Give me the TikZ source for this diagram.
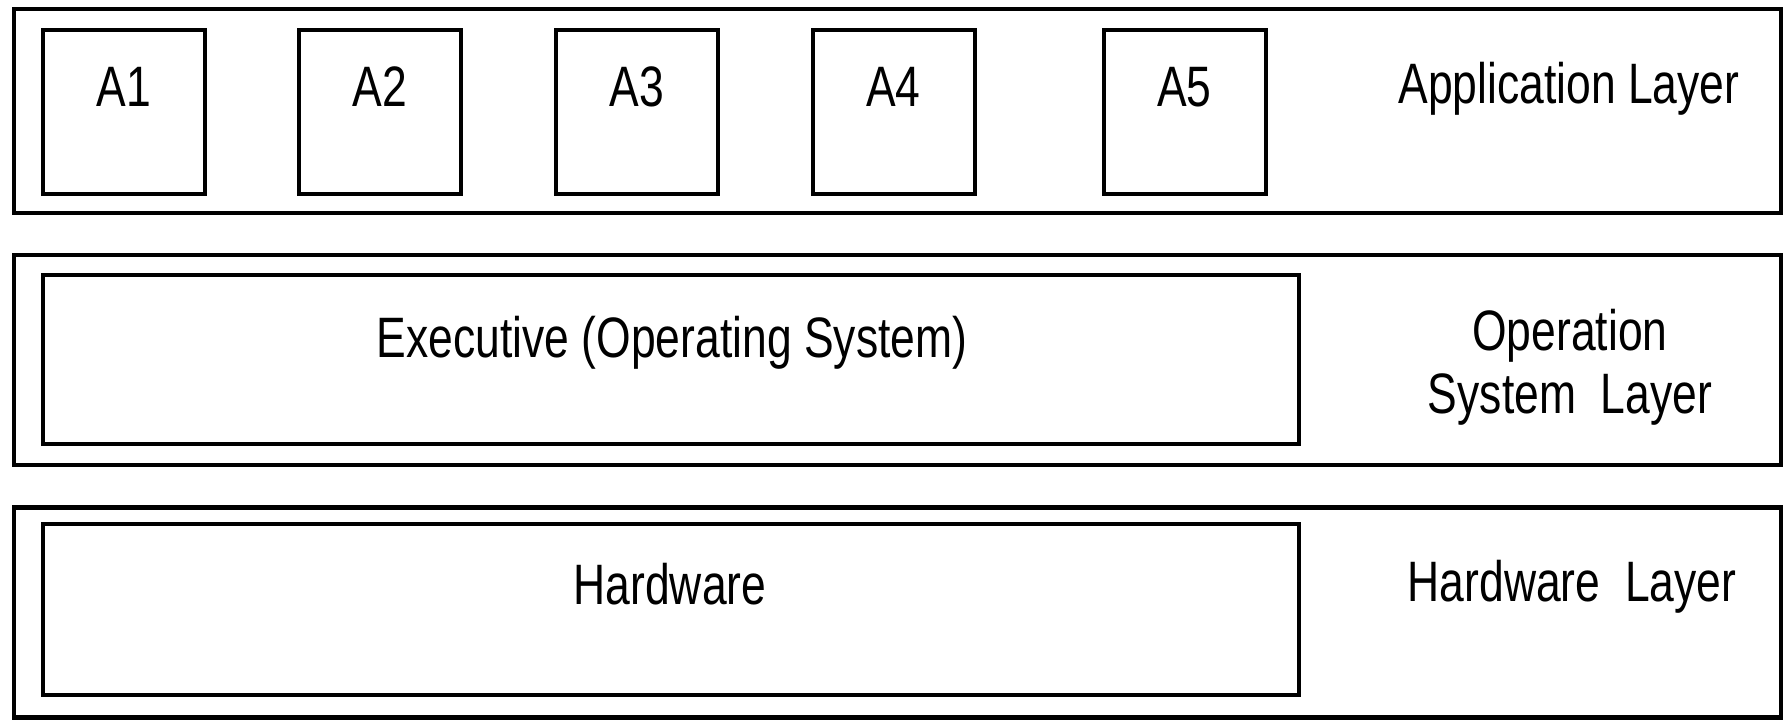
\documentclass[tikz,border=0pt]{standalone}
\usepackage{fontspec}
\setmainfont{Liberation Sans}[FakeStretch=0.78]
\begin{document}
\begin{tikzpicture}[x=1pt,y=-1pt,
  layerbox/.style={draw=black,line width=4.5pt,inner sep=0pt,minimum width=1767pt},
  appbox/.style={draw=black,line width=4pt,inner sep=0pt,minimum width=162pt,minimum height=164pt},
  widebox/.style={draw=black,line width=4pt,inner sep=0pt,minimum width=1256pt},
  lbl/.style={inner sep=0pt,anchor=base,font=\fontsize{57}{63}\selectfont}
]
\useasboundingbox (0,0) rectangle (1787,720);
% layers
\node[layerbox,minimum height=204pt] (appl) at (897.5,111) {};
\node[layerbox,minimum height=210pt] (osl) at (897.5,360) {};
\node[layerbox,minimum height=210pt] (hwl) at (897.5,612.5) {};
% application boxes
\node[appbox] (a1) at (124,112) {};
\node[appbox] (a2) at (380,112) {};
\node[appbox] (a3) at (637,112) {};
\node[appbox] (a4) at (893.5,112) {};
\node[appbox] (a5) at (1184.5,112) {};
\node[lbl] (ta1) at (124,106) {A1};
\node[lbl] (ta2) at (380,106) {A2};
\node[lbl] (ta3) at (637,106) {A3};
\node[lbl] (ta4) at (893.5,106) {A4};
\node[lbl] (ta5) at (1184.5,106) {A5};
\node[lbl] (tappl) at (1569,103) {Application Layer};
% executive
\node[widebox,minimum height=169pt] (exec) at (671,359.5) {};
\node[lbl] (texec) at (672,357) {Executive (Operating System)};
\node[lbl] (tosl1) at (1570,350) {Operation};
\node[lbl] (tosl2) at (1570,413) {System\ \ Layer};
% hardware
\node[widebox,minimum height=171pt] (hw) at (671,609.5) {};
\node[lbl] (thw) at (670,604) {Hardware};
\node[lbl] (thwl) at (1572,601) {Hardware\ \ Layer};
\end{tikzpicture}
\end{document}
